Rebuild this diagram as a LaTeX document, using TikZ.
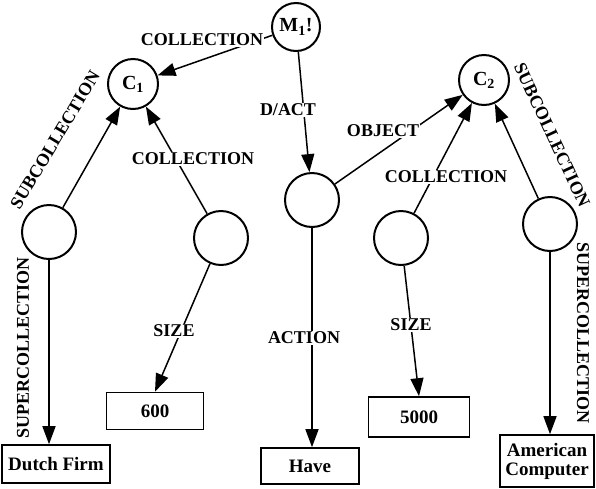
\documentclass[tikz,border=0pt]{standalone}
\usepackage{fontspec}
\setmainfont{Liberation Serif}
\usetikzlibrary{arrows.meta}

\tikzset{
  obj/.style={circle, draw=black, line width=2pt, minimum size=54pt, inner sep=0pt,
              font=\fontsize{20}{22}\selectfont\bfseries},
  val/.style={rectangle, draw=black, line width=1.6pt, inner sep=0pt, align=center,
              font=\fontsize{19}{19}\selectfont\bfseries},
  rel/.style={line width=1.5pt, -{Triangle[length=18pt,width=13pt]}},
  lbl/.style={font=\fontsize{18}{19}\selectfont\bfseries, inner sep=1pt, fill=white},
}

\begin{document}
\begin{tikzpicture}[x=1pt, y=-1pt]
                \useasboundingbox (0,0) rectangle (596,488);

                %% asserted node and classes
                \node[obj, minimum size=48pt] (m1) at (296,27) {M\textsubscript{1}!};
                \node[obj, minimum size=50pt] (c1) at (133,84) {C\textsubscript{1}};
                \node[obj, minimum size=50pt] (c2) at (484,80) {C\textsubscript{2}};

                %% base nodes
                \node[obj] (l1)  at (49,232)  {};
                \node[obj] (l2)  at (221,238) {};
                \node[obj] (act) at (312,200) {};
                \node[obj] (rm)  at (401,238) {};
                \node[obj] (rr)  at (550,224) {};

                %% values
                \node[val, minimum width=108pt, minimum height=38pt] (dutch) at (56,464)  {Dutch Firm};
                \node[val, minimum width=97pt,  minimum height=37pt] (six)   at (155,411) {600};
                \node[val, minimum width=98pt,  minimum height=36pt] (have)  at (310,466) {Have};
                \node[val, minimum width=101pt, minimum height=40pt] (five)  at (419,417) {5000};
                \node[val, minimum width=94pt,  minimum height=52pt] (amc)   at (547,461) {American\\Computer};

                %% arcs
                \draw[rel] (m1) -- (c1);
                \draw[rel] (m1) -- (act);
                \draw[rel] (act) -- (c2);
                \draw[rel] (l1) -- (c1);
                \draw[rel] (l2) -- (c1);
                \draw[rel] (l1) -- (l1 |- dutch.north);
                \draw[rel] (l2) -- (six.north);
                \draw[rel] (act) -- (act |- have.north);
                \draw[rel] (rm) -- (c2);
                \draw[rel] (rm) -- (five.north);
                \draw[rel] (rr) -- (c2);
                \draw[rel] (rr) -- (rr |- amc.north);

                %% arc labels
                \node[lbl] (t1)  at (202,40)  {COLLECTION};
                \node[lbl] (t2)  at (288,110) {D/ACT};
                \node[lbl] (t3)  at (383,131) {OBJECT};
                \node[lbl, rotate=59] (t4) at (55,140) {SUBCOLLECTION};
                \node[lbl] (t5)  at (193,159) {COLLECTION};
                \node[lbl, rotate=90] (t6) at (23,348) {SUPERCOLLECTION};
                \node[lbl] (t7)  at (174,331) {SIZE};
                \node[lbl] (t8)  at (304,338) {ACTION};
                \node[lbl] (t9)  at (446,177) {COLLECTION};
                \node[lbl] (t10) at (411,325) {SIZE};
                \node[lbl, rotate=-65] (t11) at (552,135) {SUBCOLLECTION};
                \node[lbl, rotate=-90] (t12) at (583,333) {SUPERCOLLECTION};

            \end{tikzpicture}
\end{document}
